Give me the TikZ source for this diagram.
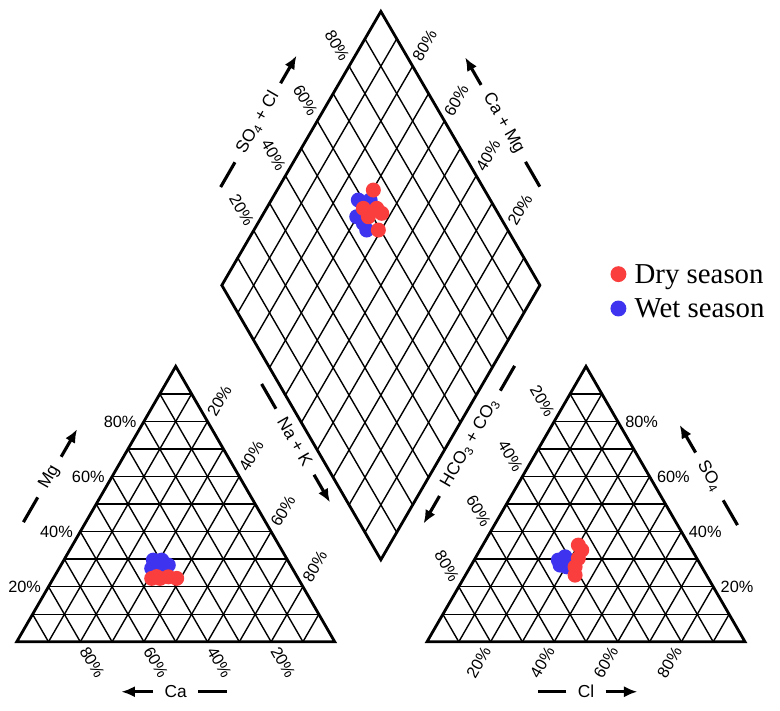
\documentclass[tikz,border=0pt]{standalone}
\usepackage{fontspec}
\setmainfont{Liberation Serif}
\setsansfont{Liberation Sans}
\usetikzlibrary{calc,arrows.meta,positioning}

\definecolor{dryred}{RGB}{250,62,62}
\definecolor{wetblue}{RGB}{62,52,240}

\tikzset{
  gridline/.style={line width=1.25pt},
  edgeline/.style={line width=2.5pt, line join=miter},
  pct/.style={font=\sffamily\fontsize{14.6}{16}\selectfont, inner sep=6.5pt},
  axtitle/.style={font=\sffamily\fontsize{15.5}{17}\selectfont, inner sep=0pt},
  axdash/.style={line width=2.8pt},
  axarrow/.style={line width=2.8pt, -{Latex[length=12pt,width=10pt]}},
  legtext/.style={font=\fontsize{25.8}{28}\selectfont, inner sep=0pt},
  legdot/.style={circle, inner sep=0pt, minimum size=0.5cm},
}

\begin{document}
\begin{tikzpicture}
    \useasboundingbox (-0.525,-2.15) rectangle (24.0,20.18);

    % Corners of the cation triangle, the anion triangle and the diamond
    \coordinate (caA) at (0,0);
    \coordinate (caB) at (10,0);
    \coordinate (caC) at (5,8.66);
    \coordinate (anA) at (12.9,0);
    \coordinate (anB) at (22.9,0);
    \coordinate (anC) at (17.9,8.66);
    \coordinate (dB) at (11.45,2.58);
    \coordinate (dL) at (6.45,11.21);
    \coordinate (dT) at (11.45,19.82);
    \coordinate (dR) at (16.45,11.21);

    % Grid lines every 10%
    \foreach \k in {1,...,9} {
        \draw[gridline] ($(caA)!\k/10!(caC)$) -- ($(caB)!\k/10!(caC)$);
        \draw[gridline] ($(caA)!\k/10!(caB)$) -- ($(caA)!\k/10!(caC)$);
        \draw[gridline] ($(caA)!\k/10!(caB)$) -- ($(caC)!\k/10!(caB)$);
        \draw[gridline] ($(anA)!\k/10!(anC)$) -- ($(anB)!\k/10!(anC)$);
        \draw[gridline] ($(anA)!\k/10!(anB)$) -- ($(anA)!\k/10!(anC)$);
        \draw[gridline] ($(anA)!\k/10!(anB)$) -- ($(anC)!\k/10!(anB)$);
        \draw[gridline] ($(dB)!\k/10!(dR)$) -- ($(dL)!\k/10!(dT)$);
        \draw[gridline] ($(dB)!\k/10!(dL)$) -- ($(dR)!\k/10!(dT)$);
    }

    % Outlines
    \draw[edgeline] (caA) -- (caB) -- (caC) -- cycle;
    \draw[edgeline] (anA) -- (anB) -- (anC) -- cycle;
    \draw[edgeline] (dB) -- (dR) -- (dT) -- (dL) -- cycle;

    % Percent labels
    \foreach \k/\v in {2/80,4/60,6/40,8/20} {
        \node[pct, anchor=east] (mgP\k) at ($(caA)!\k/10!(caC)$) {\k0\%};
        \node[pct, anchor=west, rotate=60] (nakP\k) at ($(caC)!\k/10!(caB)$) {\k0\%};
        \node[pct, anchor=west, rotate=-60] (caP\k) at ($(caA)!\k/10!(caB)$) {\v\%};
        \node[pct, anchor=east, rotate=-60] (hcoP\k) at ($(anC)!\k/10!(anA)$) {\k0\%};
        \node[pct, anchor=west] (soP\k) at ($(anB)!\k/10!(anC)$) {\k0\%};
        \node[pct, anchor=east, rotate=60] (clP\k) at ($(anA)!\k/10!(anB)$) {\k0\%};
        \node[pct, anchor=east, rotate=-60] (socP\k) at ($(dL)!\k/10!(dT)$) {\k0\%};
        \node[pct, anchor=west, rotate=60] (camP\k) at ($(dR)!\k/10!(dT)$) {\k0\%};
    }

    % Axis titles with their dashes and arrows
    \node[axtitle, rotate=60] (mgT) at (1.03,5.18) {Mg};
    \draw[axdash] ([shift={(240:10pt)}]mgT.west) -- ++(240:0.9);
    \draw[axarrow] ([shift={(60:10pt)}]mgT.east) -- ++(60:1.0);

    \node[axtitle] (caT) at (5,-1.57) {Ca};
    \draw[axarrow] ([shift={(180:10pt)}]caT.west) -- ++(180:1.0);
    \draw[axdash] ([shift={(0:10pt)}]caT.east) -- ++(0:0.9);

    \node[axtitle, rotate=-60] (nakT) at (8.75,6.29) {Na + K};
    \draw[axdash] ([shift={(120:10pt)}]nakT.west) -- ++(120:0.9);
    \draw[axarrow] ([shift={(-60:10pt)}]nakT.east) -- ++(-60:1.0);

    \node[axtitle, rotate=60] (hcoT) at (14.25,6.24) {HCO\textsubscript{3} + CO\textsubscript{3}};
    \draw[axarrow] ([shift={(240:10pt)}]hcoT.west) -- ++(240:1.0);
    \draw[axdash] ([shift={(60:10pt)}]hcoT.east) -- ++(60:0.9);

    \node[axtitle, rotate=60] (socT) at (7.58,16.32) {SO\textsubscript{4} + Cl};
    \draw[axdash] ([shift={(240:10pt)}]socT.west) -- ++(240:0.9);
    \draw[axarrow] ([shift={(60:10pt)}]socT.east) -- ++(60:1.0);

    \node[axtitle, rotate=-60] (camT) at (15.30,16.30) {Ca + Mg};
    \draw[axarrow] ([shift={(120:10pt)}]camT.west) -- ++(120:1.0);
    \draw[axdash] ([shift={(-60:10pt)}]camT.east) -- ++(-60:0.9);

    \node[axtitle, rotate=-60] (soT) at (21.78,5.2) {SO\textsubscript{4}};
    \draw[axarrow] ([shift={(120:10pt)}]soT.west) -- ++(120:1.0);
    \draw[axdash] ([shift={(-60:10pt)}]soT.east) -- ++(-60:0.9);

    \node[axtitle] (clT) at (17.9,-1.57) {Cl};
    \draw[axdash] ([shift={(180:10pt)}]clT.west) -- ++(180:0.9);
    \draw[axarrow] ([shift={(0:10pt)}]clT.east) -- ++(0:1.0);

    % Samples: wet season first, dry season on top
    \foreach \p in {(10.742,13.890),(11.113,13.890),(10.692,13.365),(10.899,13.157),(11.006,12.947),
                    (4.296,2.569),(4.560,2.569),(4.767,2.412),(4.245,2.308),(4.5,2.35),
                    (17.031,2.569),(17.242,2.673),(17.085,2.412),(17.296,2.358)}
        \fill[wetblue] \p circle (0.236);
    \foreach \p in {(11.214,14.204),(10.899,13.629),(11.321,13.629),(11.478,13.472),(11.057,13.365),(11.371,12.947),
                    (4.245,1.994),(4.506,1.994),(4.767,2.044),(5.031,1.994),(4.4,2.05),
                    (17.660,3.041),(17.767,2.884),(17.660,2.623),(17.557,2.358),(17.557,2.097)}
        \fill[dryred] \p circle (0.236);

    % Legend
    \node[legdot, fill=dryred] (dryDot) at (18.92,11.56) {};
    \node[legtext, anchor=base west] (dryTxt) at ([xshift=7pt, yshift=-8.3pt]dryDot.east) {Dry season};
    \node[legdot, fill=wetblue] (wetDot) at (18.92,10.48) {};
    \node[legtext, anchor=base west] (wetTxt) at ([xshift=7pt, yshift=-8.3pt]wetDot.east) {Wet season};
\end{tikzpicture}
\end{document}
